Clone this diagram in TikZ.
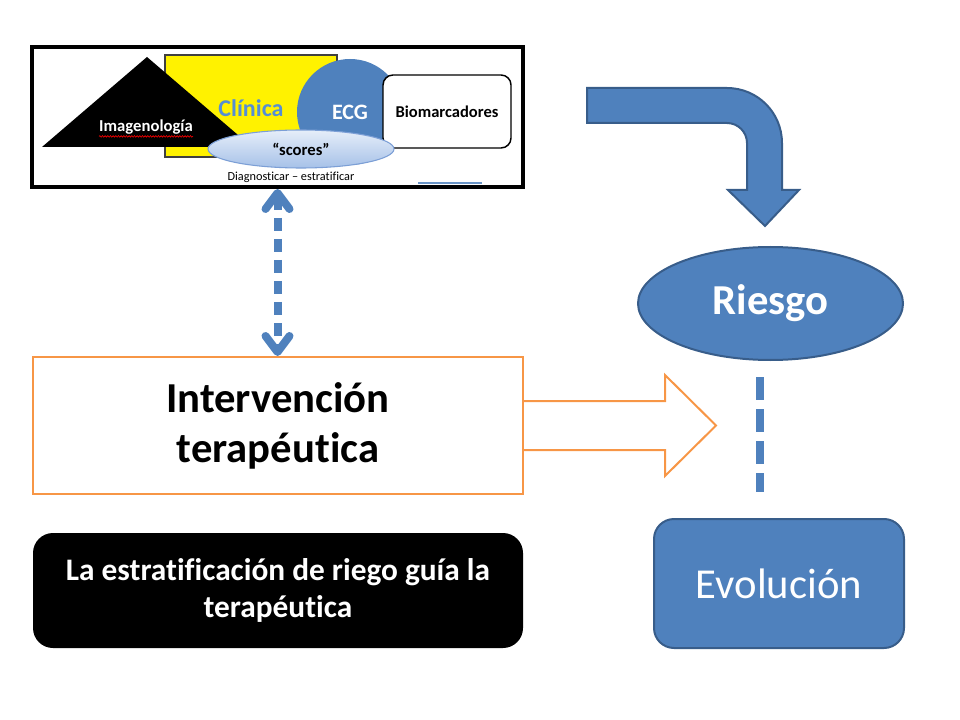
\documentclass[tikz,border=0pt]{standalone}
\usepackage{fontspec}
\setmainfont{Carlito}[Ligatures=NoCommon]
\usepackage{xcolor}
\usepackage{tikz}
\usetikzlibrary{calc,shapes.geometric,arrows.meta,decorations.pathmorphing}
\definecolor{steel}{HTML}{4F81BD}
\definecolor{steeldk}{HTML}{385D8A}
\definecolor{orng}{HTML}{F79646}
\definecolor{clin}{HTML}{558ED5}
\definecolor{skyl}{HTML}{E6EEF9}
\definecolor{skyd}{HTML}{A6C1E8}
\definecolor{skyb}{HTML}{7C9FD6}
\newcommand\setsz[2]{\fontsize{#1}{#2}\selectfont}
\tikzset{
  frm/.style={draw=black, fill=white, line width=3pt, minimum width=368.25pt, minimum height=105pt, inner sep=0pt},
  lab/.style={font={\setsz{12.5}{15}\bfseries}, inner sep=0pt},
  labs/.style={font={\setsz{9.2}{11}}, inner sep=0pt},
  ecg/.style={circle, fill=steel, minimum size=79.5pt, inner sep=0pt, text=white, font={\setsz{16.5}{19}\bfseries}},
  bio/.style={draw=black, fill=white, line width=1.1pt, rounded corners=7.5pt, minimum width=96pt, minimum height=54.75pt, inner sep=0pt, font={\setsz{12.4}{15}\bfseries}},
  score/.style={ellipse, draw=skyb, line width=0.8pt, top color=skyl, bottom color=skyd, minimum width=139.5pt, minimum height=28.5pt, inner sep=0pt, font={\setsz{12.5}{15}\bfseries}},
  oval/.style={ellipse, draw=steeldk, fill=steel, line width=1.5pt, minimum width=198.75pt, minimum height=84.75pt, inner sep=0pt, text=white, font={\setsz{32}{38}\bfseries}},
  evo/.style={draw=steeldk, fill=steel, line width=1.5pt, rounded corners=15pt, minimum width=187.5pt, minimum height=96.75pt, inner sep=0pt, text=white, font={\setsz{32}{38}}},
  ibox/.style={draw=orng, fill=white, line width=1.5pt, minimum width=367.5pt, minimum height=102.75pt, inner sep=0pt, align=center, font={\setsz{32}{37.5}\bfseries}},
  note/.style={fill=black, rounded corners=15pt, minimum width=367.5pt, minimum height=86.25pt, inner sep=0pt, align=center, text=white, font={\setsz{23.5}{27.75}\bfseries}},
  hollow/.style={draw=orng, line width=1.5pt, line join=miter},
  bent/.style={fill=steel, draw=steeldk, line width=1.5pt},
  dbl/.style={draw=steel, line width=6pt, dash pattern=on 9.75pt off 6pt, >={Straight Barb[length=12pt,width=18pt,round]}, <->},
  vdash/.style={draw=steel, line width=6pt, dash pattern=on 17.25pt off 6.75pt, shorten <=12pt, shorten >=19.5pt}
}

\begin{document}
\begin{tikzpicture}[x=0.75pt,y=-0.75pt]
  \useasboundingbox (0,0) rectangle (960,720);

  % top panel
  \node[frm] (panel) at (277.5,117) {};
  \draw[fill=yellow, draw=black!75, line width=0.8pt] (165,55) rectangle (337,157);
  \fill (147,57) -- (252,147) -- (42,147) -- cycle;
  \node[lab, text=white] (imag) at (146,127) {Imagenología};
  \draw[red, line width=0.45pt, decorate, decoration={snake, amplitude=0.6pt, segment length=2pt}]
    ($(imag.base west)+(0,5)$) -- ($(imag.base east)+(0,5)$);
  \node[lab, text=clin, font={\setsz{18}{21}\bfseries}] (clin) at (251,108) {Clínica};
  \node[ecg] (ecg) at (350,112) {ECG};
  \node[bio] (bio) at (447,111.5) {Biomarcadores};
  \node[score] (score) at (301,149) {“scores”};
  \node[labs] (diag) at (291,177) {Diagnosticar – estratificar};
  \fill[steel!85] (418,182) rectangle (482,184.5);

  % right side
  \draw[bent] (587,88) -- (727,88) .. controls (757.4,88) and (782,112.6) .. (782,143)
    -- (782,190) -- (799,190) -- (765,226) -- (728,190) -- (747,190) -- (747,143)
    .. controls (747,132) and (738,123) .. (727,123) -- (587,123) -- cycle;
  \node[oval] (riesgo) at (770.5,303.5) {Riesgo};
  \node[evo] (evol) at (779,583.5) {Evolución};
  \coordinate (dashx) at (760,0);
  \draw[vdash] (riesgo.south -| dashx) -- (evol.north -| dashx);

  % left side
  \node[ibox] (interv) at (278,425.5) {Intervención\\terapéutica};
  \draw[dbl] (panel.south) -- (panel.south |- interv.north);
  \draw[hollow] (interv.east) ++(0,-24.5) -- ++(141,0) -- ++(0,-26) -- ++(51,50.5)
    -- ++(-51,50.5) -- ++(0,-26) -- ++(-141,0);
  \node[note] (note) at (278,590.5) {La estratificación de riego guía la\\terapéutica};
\end{tikzpicture}
\end{document}
